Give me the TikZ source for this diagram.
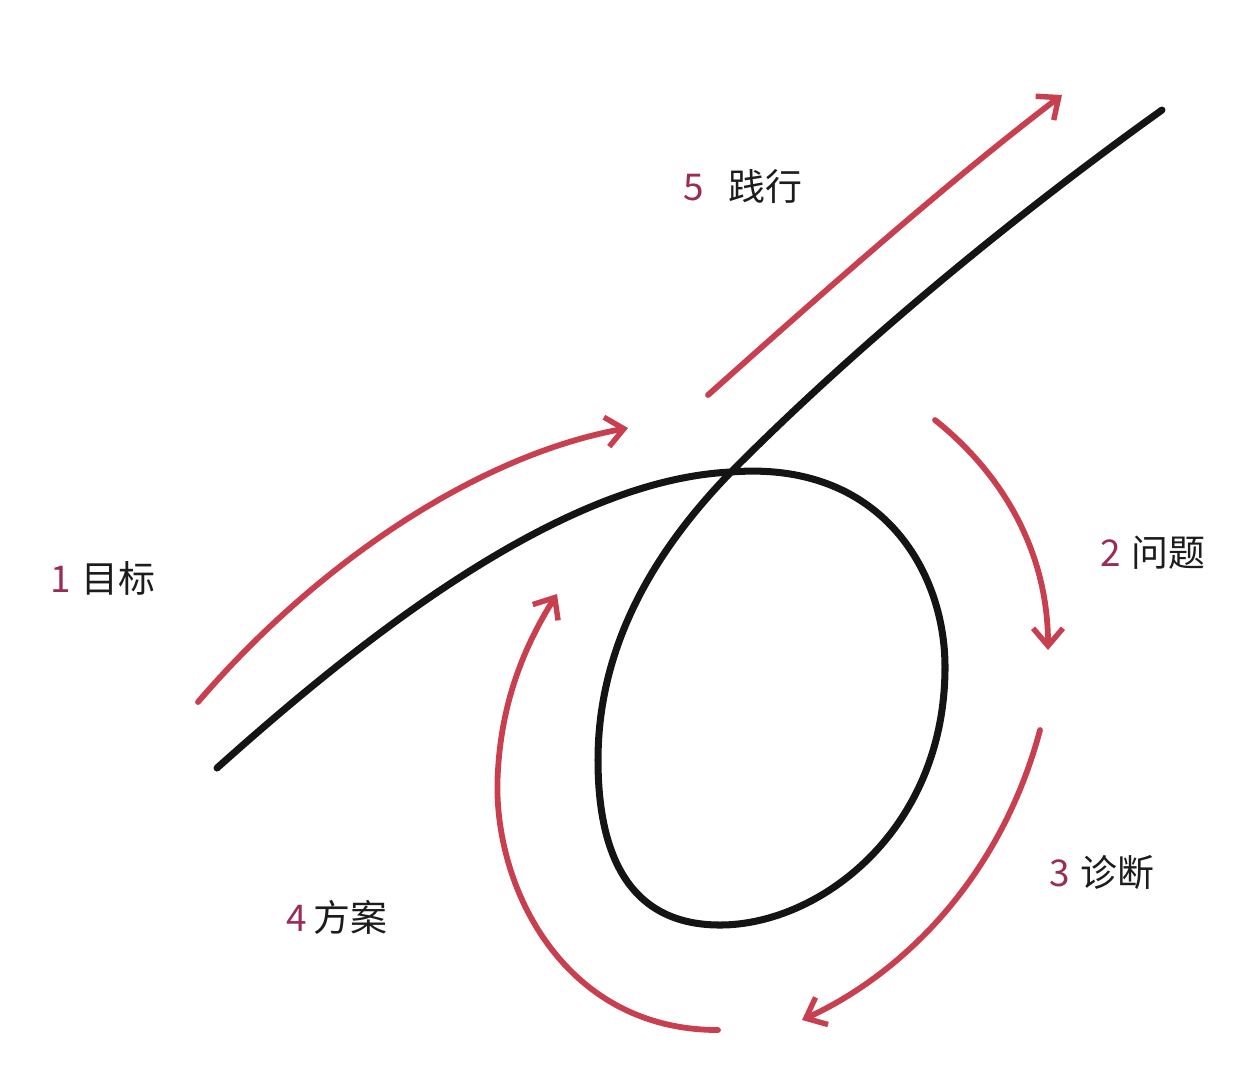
\documentclass[tikz,border=0pt]{standalone}
\usepackage{fontspec}
\setmainfont{Noto Sans CJK SC}
\usetikzlibrary{arrows.meta}
\definecolor{redarrow}{HTML}{C8404F}
\definecolor{numcol}{HTML}{9A2C58}
\definecolor{txtcol}{HTML}{1C1C1C}
\begin{document}
\begin{tikzpicture}[x=0.02cm,y=-0.02cm,
  blackline/.style={line width=4pt,black!92,line cap=round},
  redline/.style={line width=3.3pt,redarrow,line cap=round,
    -{Straight Barb[length=10pt,width=17pt,line width=3.1pt]}},
  lbl/.style={font=\fontsize{21pt}{24pt}\selectfont,text=txtcol,anchor=west,inner sep=0pt}]
\useasboundingbox (0,0) rectangle (1256,1080);
% black curve
\coordinate (bstart) at (217,768);
\coordinate (cross) at (731,472);
\coordinate (bend) at (1162,110);
\draw[blackline] (bstart) .. controls (360,640) and (560,480) .. (cross)
  .. controls (880,460) and (945,570) .. (945,667)
  .. controls (945,830) and (820,925) .. (720,925)
  .. controls (620,925) and (598,840) .. (598,760)
  .. controls (598,640) and (660,545) .. (cross)
  .. controls (880,322) and (1050,190) .. (bend);
% red arrows
\coordinate (a1s) at (198,702); \coordinate (a1e) at (628,428);
\coordinate (a5s) at (708,395); \coordinate (a5e) at (1062,95);
\coordinate (a2s) at (935,420); \coordinate (a2e) at (1048,650);
\coordinate (a3s) at (1040,730); \coordinate (a3e) at (802,1020);
\coordinate (a4s) at (718,1030); \coordinate (a4e) at (557,594);
\draw[redline] (a1s) .. controls (320,560) and (480,455) .. (a1e);
\draw[redline] (a5s) .. controls (820,295) and (950,180) .. (a5e);
\draw[redline] (a2s) .. controls (1010,480) and (1048,560) .. (a2e);
\draw[redline] (a3s) .. controls (1000,880) and (900,975) .. (a3e);
\draw[redline] (a4s) .. controls (560,1030) and (490,880) .. (498,770)
  .. controls (502,700) and (525,645) .. (a4e);
% labels
\node[lbl] (l1) at (50,578) {\textcolor{numcol}{1}\hspace{6pt}目标};
\node[lbl] (l5) at (683,187) {\textcolor{numcol}{5}\hspace{14pt}践行};
\node[lbl] (l2) at (1100,553) {\textcolor{numcol}{2}\hspace{6pt}问题};
\node[lbl] (l3) at (1049,873) {\textcolor{numcol}{3}\hspace{6pt}诊断};
\node[lbl] (l4) at (286,917) {\textcolor{numcol}{4}\hspace{4pt}方案};
\end{tikzpicture}
\end{document}
